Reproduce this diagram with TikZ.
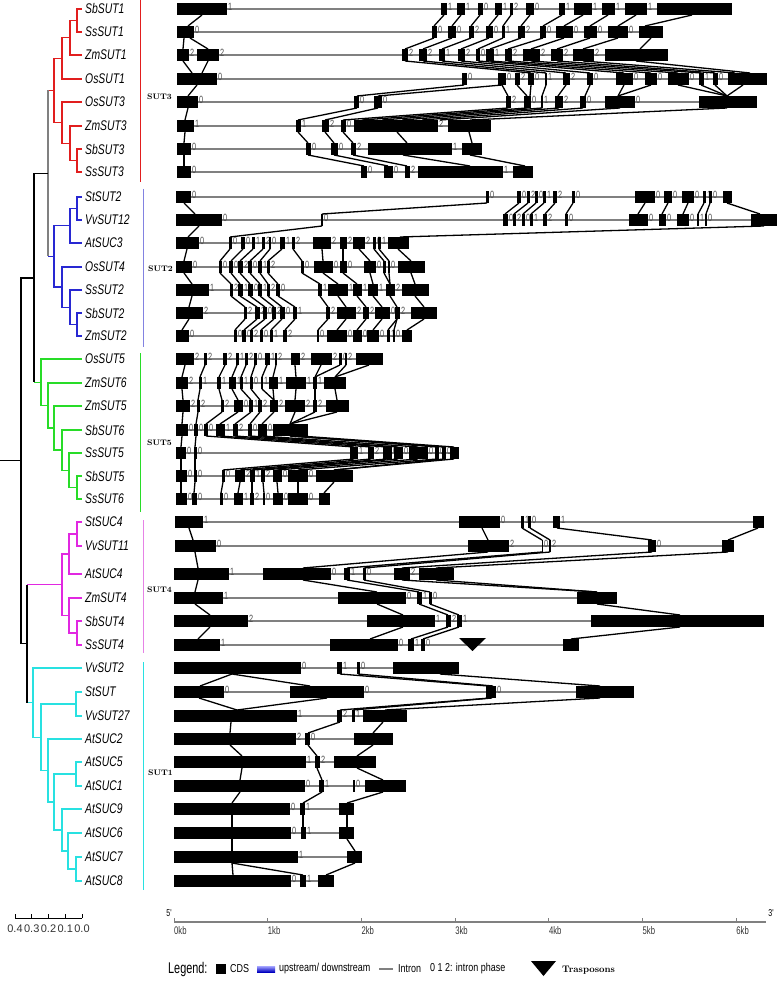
\documentclass[tikz,border=0pt]{standalone}
\usepackage{fontspec}
\newfontfamily\namefont[FakeStretch=0.74]{Liberation Sans}
\newfontfamily\narrowfont[FakeStretch=0.7]{Liberation Sans}
\newfontfamily\legendfont[FakeStretch=0.78]{Liberation Sans}
\newfontfamily\plainfont{Liberation Sans}

\definecolor{sutred}{RGB}{225,30,30}
\definecolor{sutblue}{RGB}{40,40,210}
\definecolor{sutbluebar}{RGB}{130,130,225}
\definecolor{sutgreen}{RGB}{40,220,40}
\definecolor{sutmag}{RGB}{225,40,225}
\definecolor{sutmagbar}{RGB}{230,130,230}
\definecolor{sutcyan}{RGB}{40,225,225}
\definecolor{sutgray}{RGB}{128,128,128}

\tikzset{
  tree/.style={line width=1.3pt},
  cladebar/.style={line width=1pt},
  genename/.style={anchor=west, inner sep=0pt, font=\namefont\itshape\fontsize{14}{14}\selectfont},
  phase/.style={anchor=south west, inner sep=0pt, text=black!70, font=\narrowfont\fontsize{10.5}{10.5}\selectfont},
  intron/.style={draw=black!50, line width=2pt},
  link/.style={draw=black, line width=1.3pt},
  group/.style={anchor=west, inner sep=0pt, font=\fontsize{8}{8}\selectfont\bfseries},
  kb/.style={anchor=north west, inner sep=0pt, text=black!80, font=\narrowfont\fontsize{11}{11}\selectfont},
  legendtxt/.style={anchor=west, inner sep=0pt, font=\legendfont\fontsize{11.5}{11.5}\selectfont},
}

% tree elbow: parent x, child a (y,x), child b (y,x)
\newcommand{\clade}[6][black]{\draw[tree,#1] (#4,#3) -| (#2,#5) -- (#6,#5);}
% gene row: y, name, first x, last x, exons start/end/phase
\newcommand{\gene}[5]{%
  \node[genename] (n#1) at (85,#1) {#2};
  \draw[intron] (#3,#1) -- (#4,#1);
  \foreach \s/\e/\p in {#5}{
    \fill (\s,#1-6) rectangle (\e,#1+6);
    \node[phase] (ph#1-\s) at (\e+0.8,#1+1.5) {\p};
  }
}
% exon links between two rows
\newcommand{\links}[3]{\foreach \a/\b in {#3}{\draw[link] (\a,#1+6) -- (\b,#2-6);}}

\begin{document}
\begin{tikzpicture}[x=1pt,y=-1pt]
\useasboundingbox (0,0) rectangle (778,981);

% ---- tree ----
\clade[sutred]{77}{9}{82}{32}{82}
\clade[sutred]{70}{20.5}{77}{55}{82}
\clade[sutred]{62}{37.75}{70}{79}{82}
\clade[sutred]{77}{149}{82}{172}{82}
\clade[sutred]{70}{126}{82}{160.5}{77}
\clade[sutred]{62}{102}{82}{143.25}{70}
\clade[sutred]{54}{58.4}{62}{122.6}{62}
\draw[tree,sutred] (48,90.5) -- (54,90.5);

\clade[sutblue]{77}{197}{82}{220}{82}
\clade[sutblue]{70}{208.5}{77}{243}{82}
\clade[sutblue]{77}{313}{82}{336}{82}
\clade[sutblue]{70}{290}{82}{324.5}{77}
\clade[sutblue]{62}{267}{82}{307.25}{70}
\clade[sutblue]{54}{225.75}{70}{287.1}{62}
\draw[tree,sutblue] (48,256.4) -- (54,256.4);
\draw[tree,sutgray] (48,90.5) -- (48,256.4);

\clade[sutgreen]{77}{476}{82}{499}{82}
\clade[sutgreen]{69}{453}{82}{487.5}{77}
\clade[sutgreen]{62}{430}{82}{470.25}{69}
\clade[sutgreen]{54}{406}{82}{450.1}{62}
\clade[sutgreen]{48}{383}{82}{428.1}{54}
\clade[sutgreen]{41}{359}{82}{405.5}{48}
\draw[tree,sutgreen] (34,382.3) -- (41,382.3);

\clade[sutmag]{77}{522}{82}{546}{82}
\clade[sutmag]{69}{534}{77}{574}{82}
\clade[sutmag]{77}{621}{82}{645}{82}
\clade[sutmag]{69}{598}{82}{633}{77}
\clade[sutmag]{62}{554}{69}{615.5}{69}
\draw[tree,sutmag] (27,584.75) -- (62,584.75);

\clade[sutcyan]{76}{692}{82}{716}{82}
\clade[sutcyan]{76}{762}{82}{786}{82}
\clade[sutcyan]{76}{857}{82}{881}{82}
\clade[sutcyan]{68}{833}{82}{869}{76}
\clade[sutcyan]{62}{809}{82}{851}{68}
\clade[sutcyan]{54}{774}{76}{830}{62}
\clade[sutcyan]{48}{739}{82}{802}{54}
\clade[sutcyan]{41}{704}{76}{770.5}{48}
\clade[sutcyan]{33}{668}{82}{737.25}{41}
\draw[tree,sutcyan] (27,702.6) -- (33,702.6);

\draw[tree] (48,173.5) -| (34,382.3);
\draw[tree] (34,277.9) -| (21,643.7) -- (27,643.7);
\draw[tree] (27,584.75) -- (27,702.6);
\draw[tree] (0,460.8) -- (21,460.8);

% clade bars
\draw[cladebar,sutred] (140,0) -- (140,182);
\draw[cladebar,sutbluebar] (143,189) -- (143,347);
\draw[cladebar,sutgreen] (140,353) -- (140,512);
\draw[cladebar,sutmagbar] (143,520) -- (143,653);
\draw[cladebar,sutcyan] (143,662) -- (143,890);
\node[group] (g3) at (147,97) {SUT3};
\node[group] (g2) at (148,269) {SUT2};
\node[group] (g5) at (147,443) {SUT5};
\node[group] (g4) at (147,590) {SUT4};
\node[group] (g1) at (148,773) {SUT1};

% scale bar
\draw[line width=0.6pt] (15,918) -- (82,918);
\foreach \t [count=\i from 0] in {0.4,0.3,0.2,0.1,0.0}{
  \draw[line width=0.6pt] ({15+16.75*\i},918) -- ++(0,-4);
  \node[inner sep=0pt, text=black!80, font=\plainfont\fontsize{11}{11}\selectfont] (sb\i) at ({15+16.75*\i},929) {\t};
}

% ---- genes: SUT3 ----
\gene{9}{SbSUT1}{177}{732}{177/227/1, 441/447/1, 457/465/1, 478/483/0, 495/502/1, 510/513/2, 526/534/0, 559/565/1, 574/592/1, 602/615/1, 625/647/1, 657/732/{}}
\gene{32}{SsSUT1}{177}{663}{177/194/0, 432/437/0, 448/456/0, 469/474/2, 486/493/0, 502/505/1, 518/525/2, 540/546/0, 556/573/0, 584/597/0, 608/628/0, 639/663/{}}
\gene{55}{ZmSUT1}{177}{668}{177/189/2, 197/219/2, 402/408/2, 419/427/2, 439/445/1, 458/465/2, 476/480/0, 486/494/1, 505/512/2, 523/540/2, 551/563/2, 573/594/2, 605/668/{}}
\gene{79}{OsSUT1}{177}{767}{177/217/0, 462/467/0, 498/506/0, 515/520/2, 528/534/0, 545/547/1, 563/570/2, 587/593/0, 616/633/0, 645/657/0, 668/689/0, 699/704/1, 713/718/0, 728/767/{}}
\gene{102}{OsSUT3}{177}{757}{177/198/0, 354/359/0, 374/382/0, 506/511/2, 524/531/0, 541/543/1, 555/563/2, 580/586/0, 605/635/0, 699/757/{}}
\gene{126}{ZmSUT3}{177}{491}{177/194/1, 296/301/1, 322/329/2, 341/346/0, 354/438/2, 448/491/{}}
\gene{149}{SbSUT3}{177}{482}{177/191/0, 306/311/0, 331/338/0, 351/356/2, 368/452/1, 462/482/{}}
\gene{172}{SsSUT3}{177}{533}{177/191/0, 361/367/0, 384/393/0, 405/410/2, 418/503/1, 513/533/{}}
\links{9}{32}{202/188, 444/434, 461/452, 480/471, 498/489, 511/503, 530/521, 562/543, 583/564, 608/590, 636/618, 692/645}
\links{32}{55}{184/183, 190/208, 434/405, 452/423, 471/442, 489/461, 503/478, 521/490, 543/508, 564/531, 590/557, 618/583, 651/640}
\links{55}{79}{183/192, 208/202, 405/531, 423/546, 442/566, 461/590, 478/624, 490/651, 508/678, 531/701, 557/715, 583/735, 636/750}
\links{79}{102}{197/188, 464/357, 502/378, 502/508, 517/527, 531/530, 546/542, 566/558, 590/585, 624/618, 651/618, 678/727, 701/727, 715/727, 743/727}
\links{102}{126}{188/185, 357/298, 378/325, 508/343, 527/362, 542/382, 559/402, 583/422, 620/440, 727/470}
\links{126}{149}{185/184, 298/308, 325/334, 343/353, 397/407, 469/472}
\links{149}{172}{184/184, 308/364, 334/388, 353/407, 403/470, 470/525}

% ---- genes: SUT2 ----
\gene{197}{StSUT2}{176}{732}{176/191/0, 486/489/0, 517/521/0, 527/530/2, 535/538/0, 543/546/1, 553/557/2, 572/575/0, 635/655/0, 664/672/0, 682/694/0, 703/706/1, 709/712/0, 723/732/{}}
\gene{220}{VvSUT12}{176}{777}{176/222/0, 321/323/0, 503/508/0, 513/516/2, 522/525/0, 530/533/1, 543/547/2, 565/568/0, 629/648/0, 659/666/0, 677/689/0, 697/699/1, 705/707/0, 751/777/{}}
\gene{243}{AtSUC3}{176}{409}{176/199/0, 229/232/0, 241/245/0, 252/255/1, 262/265/2, 269/271/0, 280/285/1, 292/295/2, 313/331/2, 340/347/2, 353/365/2, 373/376/0, 378/381/1, 388/409/{}}
\gene{267}{OsSUT4}{176}{425}{176/192/0, 219/222/0, 229/233/0, 238/243/2, 248/252/0, 258/262/1, 267/270/2, 301/304/0, 314/333/0, 340/347/0, 364/376/0, 383/386/1, 388/390/0, 398/425/{}}
\gene{290}{SsSUT2}{176}{429}{176/209/1, 230/233/2, 238/243/1, 248/253/0, 258/262/1, 267/270/2, 276/280/0, 318/322/1, 328/348/1, 353/362/1, 368/378/1, 386/395/2, 402/429/{}}
\gene{313}{SbSUT2}{176}{437}{176/203/2, 244/247/2, 255/260/2, 263/267/0, 272/276/2, 280/285/0, 293/297/1, 326/330/2, 337/356/2, 363/369/2, 375/390/0, 395/400/2, 411/437/{}}
\gene{336}{ZmSUT2}{176}{412}{176/189/0, 234/237/0, 242/246/0, 250/253/2, 260/263/0, 270/273/1, 283/287/2, 317/319/0, 327/347/0, 353/362/0, 367/379/0, 387/390/1, 393/395/0, 402/412/{}}
\links{197}{220}{184/195, 487/322, 519/505, 528/514, 536/523, 544/531, 555/545, 573/566, 645/638, 668/662, 688/683, 704/698, 710/706, 727/760}
\links{220}{243}{199/188, 322/230, 764/400}
\links{243}{267}{187/184, 230/220, 243/231, 253/240, 263/250, 270/260, 282/268, 293/302, 322/323, 343/343, 359/370, 374/384, 379/389, 398/411}
\links{267}{290}{184/192, 220/231, 231/240, 240/250, 250/260, 260/268, 268/278, 302/320, 323/338, 343/357, 370/373, 384/390, 389/390, 411/415}
\links{290}{313}{192/189, 231/245, 240/257, 250/265, 260/274, 268/282, 278/295, 320/328, 338/346, 357/366, 373/382, 390/397, 415/424}
\links{313}{336}{189/182, 245/235, 257/244, 265/251, 274/261, 282/271, 295/285, 328/318, 346/337, 366/357, 382/373, 397/388, 397/394, 424/407}

% ---- genes: SUT5 ----
\gene{359}{OsSUT5}{176}{383}{176/194/2, 204/207/2, 223/227/2, 236/239/1, 245/248/2, 254/257/0, 265/270/1, 275/277/2, 291/300/2, 311/332/2, 339/342/0, 345/347/2, 356/383/{}}
\gene{383}{ZmSUT6}{176}{346}{176/188/2, 199/202/1, 217/221/1, 229/236/1, 240/243/1, 250/253/0, 261/263/1, 269/278/1, 286/306/1, 313/317/1, 324/346/{}}
\gene{406}{ZmSUT5}{176}{349}{176/190/2, 197/200/2, 221/224/2, 234/243/0, 249/253/1, 258/262/2, 270/278/2, 285/305/2, 313/317/2, 326/349/{}}
\gene{430}{SbSUT6}{176}{308}{176/188/0, 194/198/0, 204/208/0, 216/225/1, 233/238/2, 248/252/0, 258/267/0, 273/308/{}}
\gene{453}{SsSUT5}{176}{459}{176/186/0, 194/197/0, 350/358/1, 368/374/2, 383/392/0, 394/403/0, 409/428/0, 435/439/0, 442/446/0, 450/459/{}}
\gene{476}{SbSUT5}{176}{353}{176/187/0, 194/197/0, 222/225/0, 235/245/2, 250/255/1, 261/265/2, 273/282/0, 288/308/0, 316/353/{}}
\gene{499}{SsSUT6}{176}{330}{176/187/0, 192/197/0, 220/223/0, 234/243/1, 250/254/2, 263/265/0, 273/283/0, 288/308/0, 319/330/{}}
\links{359}{383}{185/182, 205/200, 225/219, 237/232, 246/241, 255/251, 267/262, 276/273, 295/296, 321/315, 340/315, 346/335, 369/335}
\links{383}{406}{182/183, 200/198, 219/222, 232/238, 241/251, 251/260, 262/274, 273/274, 296/295, 315/315, 335/337}
\links{406}{430}{183/182, 198/196, 222/206, 238/220, 251/235, 260/250, 274/262, 295/290, 315/290, 337/290}
\links{430}{453}{182/181, 196/195, 206/354, 220/371, 235/387, 250/398, 262/418, 290/437, 290/444, 300/454}
\links{453}{476}{181/181, 195/195, 354/223, 371/240, 387/252, 398/263, 418/277, 437/298, 444/334, 454/334}
\links{476}{499}{181/181, 195/194, 223/221, 240/238, 252/252, 263/264, 277/278, 298/298, 334/324}

% ---- genes: SUT4 ----
\gene{522}{StSUC4}{175}{764}{175/203/1, 459/500/0, 521/524/1, 528/531/0, 553/560/1, 753/764/{}}
\gene{546}{VvSUT11}{175}{734}{175/216/0, 468/509/2, 542/543/0, 549/551/2, 648/656/0, 722/734/{}}
\gene{574}{AtSUC4}{174}{454}{174/229/1, 263/331/0, 344/350/1, 363/366/0, 394/410/2, 419/454/{}}
\gene{598}{ZmSUT4}{174}{617}{174/223/1, 338/406/0, 417/422/1, 429/432/0, 577/617/{}}
\gene{621}{SbSUT4}{174}{764}{174/248/2, 367/435/1, 446/451/2, 457/462/1, 591/764/{}}
\gene{645}{SsSUT4}{174}{579}{174/220/1, 330/398/0, 408/414/1, 421/425/0, 563/579/{}}
\fill (459,638) -- (486,638) -- (472.5,651) -- cycle;
\links{522}{546}{189/193, 482/488, 522/542, 530/550, 557/652, 758/728}
\links{546}{574}{195/198, 488/303, 542/347, 550/364, 652/402, 728/436}
\links{574}{598}{198/195, 303/377, 347/419, 364/430, 402/597, 436/597}
\links{598}{621}{195/210, 377/403, 419/448, 430/459, 597/680}
\links{621}{645}{210/198, 403/370, 448/411, 459/423, 680/571}

% ---- genes: SUT1 ----
\gene{668}{VvSUT2}{174}{459}{174/301/0, 337/342/1, 357/360/0, 393/459/{}}
\gene{692}{StSUT}{174}{634}{174/224/0, 290/364/0, 486/496/0, 576/634/{}}
\gene{716}{VvSUT27}{174}{407}{174/297/1, 337/342/2, 352/355/1, 363/407/{}}
\gene{739}{AtSUC2}{174}{393}{174/296/2, 305/310/0, 354/393/{}}
\gene{762}{AtSUC5}{174}{376}{174/306/1, 315/320/2, 334/376/{}}
\gene{786}{AtSUC1}{174}{406}{174/305/0, 319/324/1, 353/355/0, 365/406/{}}
\gene{809}{AtSUC9}{174}{354}{174/290/0, 300/305/1, 339/354/{}}
\gene{833}{AtSUC6}{174}{354}{174/291/0, 301/306/1, 339/354/{}}
\gene{857}{AtSUC7}{174}{362}{174/298/1, 347/362/{}}
\gene{881}{AtSUC8}{174}{334}{174/291/0, 300/306/1, 318/334/{}}
\links{668}{692}{232/200, 232/310, 340/488, 358/493, 440/600}
\links{692}{716}{199/237, 327/237, 490/340, 492/353, 600/385}
\links{716}{739}{231/230, 340/308, 383/373}
\links{739}{762}{230/242, 308/317, 373/357}
\links{762}{786}{242/240, 317/322, 357/383}
\links{786}{809}{240/232, 322/303, 383/347}
\links{809}{833}{232/232, 303/303, 347/347}
\links{833}{857}{232/232, 347/355}
\links{857}{881}{232/233, 232/303, 355/326}

% ---- axis ----
\draw[black!50, line width=2pt] (174,922) -- (766,922);
\foreach \k in {0,...,6}{
  \draw[black!50, line width=0.8pt] ({174+93.7*\k},922) -- ++(0,-4);
  \node[kb] (kb\k) at ({174+93.7*\k},926) {\k kb};
}
\node[inner sep=0pt, font=\narrowfont\fontsize{10}{10}\selectfont] (five) at (169,913) {5'};
\node[inner sep=0pt, font=\narrowfont\fontsize{10}{10}\selectfont] (three) at (771,913) {3'};

% ---- legend ----
\node[legendtxt, font=\narrowfont\fontsize{15.5}{15.5}\selectfont] (leg) at (168,969) {Legend:};
\fill (216,964) rectangle (226,974);
\node[legendtxt] (cds) at (230,969) {CDS};
\shade[top color=blue!35, bottom color=blue!75!black] (257,966) rectangle (275,972);
\node[legendtxt] (ud) at (279,969) {upstream/ downstream};
\draw[black!50, line width=2pt] (379,969) -- (393,969);
\node[legendtxt] (intr) at (398,969) {Intron};
\node[legendtxt] (iph) at (430,969) {0 1 2: intron phase};
\fill (531,961) -- (556,961) -- (543.5,976) -- cycle;
\node[anchor=west, inner sep=0pt, font=\fontsize{9.5}{9.5}\selectfont\bfseries] (tr) at (562,970) {Trasposons};
\end{tikzpicture}
\end{document}
